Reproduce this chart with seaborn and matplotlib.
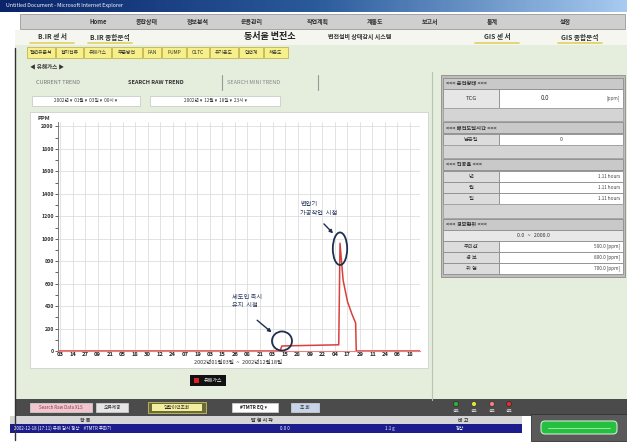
import numpy as np
import pandas as pd
import seaborn as sns
import matplotlib.pyplot as plt
from matplotlib.patches import Rectangle, Ellipse, FancyBboxPatch

# data (x in tick units, one unit per date label)
tick_labels = ["03", "14", "27", "09", "21", "05", "18", "30", "12", "24", "07", "19", "03", "15",
               "26", "08", "21", "03", "15", "28", "09", "22", "04", "17", "29", "11", "24", "06", "18"]
trend_x = [-0.16, 17.6, 17.75, 22.2, 22.3, 22.4, 22.65, 23.0, 23.35, 23.65, 23.7, 28.8]
trend_ppm = [0, 0, 45, 55, 55, 960, 630, 440, 330, 250, 0, 0]
y_ticks = [0, 200, 400, 600, 800, 1000, 1200, 1400, 1600, 1800, 2000]

menu_items = ["Home", "종합상태", "정보분석", "운용관리", "작업계획", "계통도", "보고서", "통계", "설정"]
sub_tabs = ["절연유분석", "접지전류", "유해가스", "부분방전", "FAN", "PUMP", "OLTC", "유기온도", "압력계", "저온도"]
alarm_rows = ["주의값", "경 보", "위 험"]
alarm_vals = ["500.0 [ppm]", "800.0 [ppm]", "700.0 [ppm]"]

sns.set_style("white")
plt.rcParams['font.family'] = ['Noto Sans CJK KR', 'DejaVu Sans']

fig = plt.figure(figsize=(6.27, 4.47), dpi=100)
bg = fig.add_axes([0, 0, 1, 1])
bg.set_xlim(0, 627)
bg.set_ylim(447, 0)
bg.axis('off')


def box(x, y, w, h, fc, ec='none', lw=0.6, z=1):
    bg.add_patch(Rectangle((x, y), w, h, facecolor=fc, edgecolor=ec, linewidth=lw, zorder=z))


def txt(x, y, s, size=4.5, color='#222222', ha='center', weight='normal', z=5):
    bg.text(x, y, s, fontsize=size, color=color, ha=ha, va='center', fontweight=weight, zorder=z)


# page background
box(0, 0, 627, 447, '#ffffff')
box(15, 45, 612, 355, '#e5eedd')
# title bar
grad = np.linspace(0, 1, 200).reshape(1, -1)
bg.imshow(grad, extent=(0, 627, 12, 0), cmap=plt.matplotlib.colors.LinearSegmentedColormap.from_list(
    'tb', ['#0a246a', '#2a5a9a', '#a6caf0']), aspect='auto', zorder=2)
txt(6, 6, "Untitled Document - Microsoft Internet Explorer", size=3.8, color='white', ha='left', z=6)
box(604, 2, 20, 8, '#c0c0c0', '#666666')
# menu bar
box(20, 14, 605, 15, '#cfcfcf', '#9a9a9a')
menu_x = [98, 147, 198, 252, 318, 375, 430, 492, 565]
for mx, name in zip(menu_x, menu_items):
    txt(mx, 21.5, name, size=4.3, weight='bold', color='#333333')
# second row
box(15, 30, 612, 15, '#f4f6ef')
for mx, s in [(52, "B.IR 센 서"), (110, "B.IR 종합분석"), (497, "GIS 센 서"), (580, "GIS 종합분석")]:
    txt(mx, 37, s, size=4.8, weight='bold', color='#333333')
    bg.plot([mx - 22, mx + 22], [42.5, 42.5], color='#e0d060', lw=1.2, zorder=4)
txt(270, 37, "동서울 변전소", size=6.5, weight='bold', color='#222222')
txt(360, 37, "변전설비 상태감시 시스템", size=4.3, weight='bold', color='#333333')
# yellow sub tabs
tab_w = [28, 27, 27, 30, 18, 24, 22, 28, 24, 24]
tx = 27
for w, name in zip(tab_w, sub_tabs):
    box(tx, 47, w, 11, '#f7f08a', '#b9a93a', lw=0.5, z=3)
    txt(tx + w / 2, 52.5, name, size=3.5, color='#333333')
    tx += w + 1
bg.plot([15, 15], [48, 440], color='#333333', lw=1.0, zorder=4)
txt(30, 67, "◀ 유해가스 ▶", size=4.0, ha='left', color='#333333', weight='bold')
# trend tabs
txt(36, 82, "CURRENT TREND", size=4.0, ha='left', color='#777777')
txt(128, 82, "SEARCH RAW TREND", size=4.0, ha='left', color='#333333', weight='bold')
txt(227, 82, "SEARCH MINI TREND", size=4.0, ha='left', color='#888888')
for vx in [222, 318]:
    bg.plot([vx, vx], [75, 90], color='#999999', lw=0.8, zorder=4)
# date selectors
box(32, 96, 108, 10, '#ffffff', '#cccccc')
txt(86, 101, "2002년 ▾  01월 ▾  03일 ▾  00시 ▾", size=3.4, color='#333333')
box(150, 96, 130, 10, '#ffffff', '#cccccc')
txt(215, 101, "2002년 ▾  12월 ▾  18일 ▾  23시 ▾", size=3.4, color='#333333')
# chart panel
box(30, 112, 398, 256, '#ffffff', '#cfcfcf')
txt(37, 118, "PPM", size=4.2, ha='left', color='#333333', weight='bold')
txt(238, 363, "2002년01월03일  ~  2002년12월18일", size=4.0, color='#333333')
box(190, 375, 36, 11, '#111111')
box(194, 378, 5, 5, '#e02020', z=2)
txt(213, 380.5, "유해가스", size=3.6, color='white')
bg.plot([432, 432], [72, 400], color='#b8c4b0', lw=0.8, zorder=4)

# right status panel
px, pw = 443, 180
def header(y, s):
    box(px, y, pw, 11, '#c9c9c9', '#8c8c8c')
    txt(px + 3, y + 5.5, s, size=3.8, ha='left', color='#333333', weight='bold')

def row(y, h, label, val, unit=''):
    box(px, y, 56, h, '#dcdcdc', '#8c8c8c')
    box(px + 56, y, pw - 56, h, '#ffffff', '#8c8c8c')
    txt(px + 28, y + h / 2, label, size=3.8, color='#333333')
    if unit:
        txt(px + pw - 3, y + h / 2, val + " " + unit, size=3.4, ha='right', color='#444444')
    else:
        txt(px + 56 + (pw - 56) / 2, y + h / 2, val, size=3.8, color='#444444')

box(px - 2, 75, pw + 4, 202, '#bdbdbd', '#8c8c8c')
header(78, "<<< 운전상태 <<<")
box(px, 89, 56, 19, '#e6e6e6', '#8c8c8c')
box(px + 56, 89, pw - 56, 19, '#ffffff', '#8c8c8c')
txt(px + 28, 98.5, "TCG", size=4.2, color='#333333')
txt(545, 98.5, "0.0", size=4.5, color='#333333')
txt(px + pw - 3, 98.5, "[ppm]", size=3.4, ha='right', color='#555555')
box(px, 108, pw, 13, '#d4d4d4', '#a0a0a0')
header(122, "<<< 배전도달시간 <<<")
row(134, 11, "남은일", "0")
box(px, 145, pw, 13, '#d4d4d4', '#a0a0a0')
header(159, "<<< 진공율 <<<")
for i, lab in enumerate(["년", "월", "일"]):
    row(171 + i * 11, 11, lab, "1.11", "hours")
box(px, 204, pw, 14, '#d4d4d4', '#a0a0a0')
header(219, "<<< 경보범위 <<<")
box(px, 230, pw, 11, '#e8e8e8', '#8c8c8c')
txt(px + pw / 2, 235.5, "0.0   ~   2000.0", size=3.8, color='#333333')
for i, (lab, val) in enumerate(zip(alarm_rows, alarm_vals)):
    row(241 + i * 11, 11, lab, val.split()[0], val.split()[1])

# bottom bar
box(15, 399, 612, 17, '#4b4b4b')
box(30, 403, 62, 9, '#f2c6d0', '#cccccc', z=2)
txt(61, 407.5, "Search Raw Data XLS", size=3.2, color='#883344')
box(96, 403, 32, 9, '#e6e6e6', '#cccccc', z=2)
txt(112, 407.5, "오류제공", size=3.4, color='#333333')
box(148, 402, 58, 11, '#6b6b3a', '#c8c060', z=2)
box(152, 404, 50, 7, '#f2f0a0', z=2)
txt(177, 407.5, "알람이력조회", size=3.4, color='#333333')
box(232, 403, 46, 9, '#ffffff', '#cccccc', z=2)
txt(253, 407.5, "#TMTR EQ ▾", size=3.4, color='#222222', weight='bold')
box(291, 403, 28, 9, '#c8d4e8', '#cccccc', z=2)
txt(305, 407.5, "조 회", size=3.4, color='#333333')
for lx, c in zip([456, 474, 492, 509], ['#30b040', '#e0e040', '#f08080', '#e03030']):
    bg.add_patch(Ellipse((lx, 404), 5, 5, facecolor=c, edgecolor='#222222', lw=0.4, zorder=5))
    txt(lx, 411, "경보", size=2.6, color='#dddddd')
box(10, 416, 512, 8, '#d6d6d6')
txt(85, 420, "항 목", size=3.6, color='#333333', weight='bold')
txt(262, 420, "발 생 시 각", size=3.6, color='#333333', weight='bold')
txt(463, 420, "비 고", size=3.6, color='#333333', weight='bold')
box(10, 424, 512, 9, '#1c1c8c')
txt(14, 428.5, "2002-12-18 (17:11) 유해 감시 정상    #TMTR 주파기", size=3.2, ha='left', color='white')
txt(285, 428.5, "0.0 0", size=3.2, color='white')
txt(390, 428.5, "1.1 g", size=3.2, color='white')
txt(460, 428.5, "정상", size=3.2, color='white')
box(531, 414, 96, 27, '#5a5a5a', '#333333', z=3)
bg.add_patch(FancyBboxPatch((541, 421), 76, 13, boxstyle='round,pad=0,rounding_size=4',
                            facecolor='#26c040', edgecolor='#cfe8cf', lw=0.8, zorder=4))
bg.plot([548, 610], [427.5, 427.5], color='#aef0b0', lw=0.6, zorder=5)

# trend chart
ax = fig.add_axes([58 / 627, 1 - 351 / 447, 362 / 627, 229 / 447])
df = pd.DataFrame({'t': trend_x, 'ppm': trend_ppm})
sns.lineplot(data=df, x='t', y='ppm', sort=False, color='#d8403c', lw=1.1, ax=ax, zorder=5)
ax.set_xlim(-0.16, 28.8)
ax.set_ylim(0, 2040)
ax.set_xticks(range(len(tick_labels)))
ax.set_xticklabels(tick_labels, fontsize=4.2, color='#222222', fontweight='bold')
ax.set_yticks(y_ticks)
ax.set_yticklabels(["0"] + [str(v) for v in y_ticks[1:]], fontsize=3.8, color='#333333', fontweight='bold')
ax.set_yticks(np.arange(100, 2000, 200), minor=True)
ax.grid(True, which='major', color='#d8d8d8', lw=0.5)
ax.xaxis.set_tick_params(pad=1, length=0)
ax.tick_params(axis='y', which='both', direction='out', length=2, width=0.5, pad=1, left=True)
ax.set_xlabel('')
ax.set_ylabel('')
for side in ['top', 'right']:
    ax.spines[side].set_visible(False)
ax.spines['left'].set_color('#666666')
ax.spines['left'].set_linewidth(0.6)
ax.spines['bottom'].set_color('#e88080')
ax.spines['bottom'].set_linewidth(0.8)
ax.patch.set_alpha(0)

# annotations on the chart
ax.add_patch(Ellipse((17.76, 89), 1.6, 170, fill=False, edgecolor='#1f2f50', lw=1.3, zorder=6, clip_on=False))
ax.add_patch(Ellipse((22.4, 911), 1.15, 290, fill=False, edgecolor='#1f2f50', lw=1.3, zorder=6))
ax.annotate("", xy=(17.1, 150), xytext=(15.6, 290),
            arrowprops=dict(arrowstyle='-|>', color='#1f2f50', lw=1.0, mutation_scale=5), zorder=6)
ax.annotate("", xy=(22.0, 1030), xytext=(20.96, 1150),
            arrowprops=dict(arrowstyle='-|>', color='#1f2f50', lw=1.0, mutation_scale=5), zorder=6)
ax.text(13.8, 446, "세도인 측시\n유지  시점", fontsize=4.5, color='#2a3a60', va='center', ha='left',
        linespacing=1.1)
ax.text(19.2, 1268, "변압기\n가공작업  시점", fontsize=4.5, color='#2a3a60', va='center', ha='left',
        linespacing=1.1)

fig.savefig('out.png', dpi=100)
